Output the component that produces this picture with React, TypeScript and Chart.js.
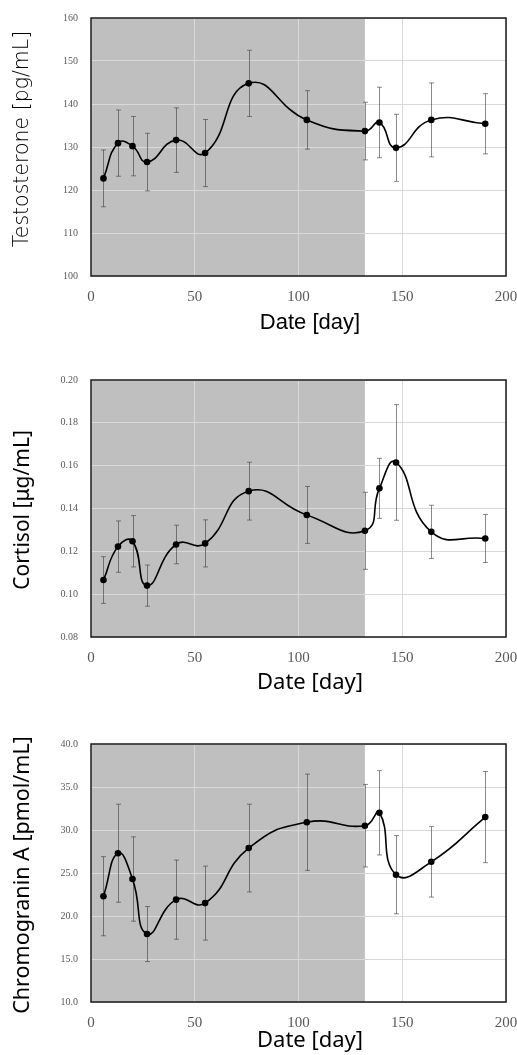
import React, { useEffect, useRef } from "react";
import { Chart, registerables } from "chart.js";
Chart.register(...registerables);

// ---------- data ----------
const days = [6, 13, 20, 27, 41, 55, 76, 104, 132, 139, 147, 164, 190];
const shadeEndDay = 132;
const xTicks = [0, 50, 100, 150, 200];

const testosterone = [122.7, 130.9, 130.2, 126.5, 131.6, 128.6, 144.8, 136.3, 133.7, 135.7, 129.8, 136.3, 135.4];
const testosteroneErr = [6.6, 7.7, 6.9, 6.7, 7.5, 7.8, 7.7, 6.8, 6.7, 8.2, 7.8, 8.6, 7.0];
const testosteroneTicks = [100, 110, 120, 130, 140, 150, 160];

const cortisol = [0.1066, 0.1222, 0.1247, 0.104, 0.1232, 0.1237, 0.1481, 0.137, 0.1296, 0.1494, 0.1615, 0.1291, 0.126];
const cortisolErr = [0.0109, 0.012, 0.012, 0.0096, 0.009, 0.011, 0.0135, 0.0133, 0.018, 0.014, 0.027, 0.0124, 0.0112];
const cortisolTicks = [0.08, 0.1, 0.12, 0.14, 0.16, 0.18, 0.2];

const chromograninA = [22.3, 27.3, 24.3, 17.9, 21.9, 21.5, 27.9, 30.9, 30.5, 32.0, 24.8, 26.3, 31.5];
const chromograninAErr = [4.6, 5.7, 4.9, 3.2, 4.6, 4.3, 5.1, 5.6, 4.8, 4.9, 4.55, 4.1, 5.3];
const chromograninATicks = [10, 15, 20, 25, 30, 35, 40];

const X_TITLE = "Date [day]";

type PanelProps = {
  top: number;
  height: number;
  plotTop: number; // relative to canvas
  plotBottom: number; // relative to canvas
  values: number[];
  errors: number[];
  yTicks: number[];
  decimals: number;
  yTitle: string;
  yTitleFont: string;
  xTitleFont: string;
  xTitleY: number; // relative to canvas
  yTitleCenterY: number; // relative to canvas
};

function Panel(p: PanelProps) {
  const ref = useRef<HTMLCanvasElement>(null);
  useEffect(() => {
    const canvas = ref.current!;
    const shadePlugin = {
      id: "shade",
      beforeDraw(chart: any) {
        const { ctx, chartArea, scales } = chart;
        const xEnd = scales.x.getPixelForValue(shadeEndDay);
        ctx.save();
        ctx.fillStyle = "#bfbfbf";
        ctx.fillRect(chartArea.left, chartArea.top, xEnd - chartArea.left, chartArea.bottom - chartArea.top);
        ctx.restore();
      },
    };
    const errPlugin = {
      id: "errbars",
      beforeDatasetsDraw(chart: any) {
        const { ctx, chartArea, scales } = chart;
        ctx.save();
        // frame
        ctx.strokeStyle = "#1a1a1a";
        ctx.lineWidth = 1.5;
        ctx.strokeRect(chartArea.left, chartArea.top, chartArea.right - chartArea.left, chartArea.bottom - chartArea.top);
        ctx.strokeStyle = "rgba(60,60,60,0.6)";
        ctx.lineWidth = 1;
        days.forEach((d, i) => {
          const x = Math.round(scales.x.getPixelForValue(d)) + 0.5;
          const y1 = scales.y.getPixelForValue(p.values[i] + p.errors[i]);
          const y2 = scales.y.getPixelForValue(p.values[i] - p.errors[i]);
          ctx.beginPath();
          ctx.moveTo(x, y1);
          ctx.lineTo(x, y2);
          ctx.moveTo(x - 2.5, y1);
          ctx.lineTo(x + 2.5, y1);
          ctx.moveTo(x - 2.5, y2);
          ctx.lineTo(x + 2.5, y2);
          ctx.stroke();
        });
        ctx.restore();
      },
    };
    const titlePlugin = {
      id: "titles",
      afterDraw(chart: any) {
        const { ctx } = chart;
        ctx.save();
        ctx.fillStyle = "#000";
        ctx.textAlign = "center";
        ctx.textBaseline = "middle";
        ctx.font = p.xTitleFont;
        ctx.fillText(X_TITLE, 310, p.xTitleY);
        ctx.translate(23, p.yTitleCenterY);
        ctx.rotate(-Math.PI / 2);
        ctx.font = p.yTitleFont;
        ctx.fillText(p.yTitle, 0, 0);
        ctx.restore();
      },
    };
    const chart = new Chart(canvas, {
      type: "line",
      data: {
        datasets: [
          {
            data: days.map((d, i) => ({ x: d, y: p.values[i] })),
            borderColor: "#000",
            borderWidth: 1.6,
            tension: 0.5,
            pointRadius: 3.3,
            pointBackgroundColor: "#000",
            pointBorderWidth: 0,
            fill: false,
          },
        ],
      },
      options: {
        animation: false,
        responsive: false,
        devicePixelRatio: 1,
        layout: { padding: { top: p.plotTop, right: 11, left: 0, bottom: 0 } },
        plugins: { legend: { display: false }, tooltip: { enabled: false } },
        scales: {
          x: {
            type: "linear",
            min: xTicks[0],
            max: xTicks[xTicks.length - 1],
            afterBuildTicks: (s: any) => {
              s.ticks = xTicks.map((v) => ({ value: v }));
            },
            afterFit: (s: any) => {
              s.height = p.height - p.plotBottom;
              s.paddingLeft = 0;
              s.paddingRight = 0;
            },
            grid: { color: "#d9d9d9", drawTicks: false, lineWidth: 1 },
            border: { display: false },
            ticks: {
              padding: 12,
              color: "#595959",
              maxRotation: 0,
              autoSkip: false,
              font: { family: "'Liberation Serif', serif", size: 15 },
            },
          },
          y: {
            type: "linear",
            min: p.yTicks[0],
            max: p.yTicks[p.yTicks.length - 1],
            afterBuildTicks: (s: any) => {
              s.ticks = p.yTicks.map((v) => ({ value: v }));
            },
            afterFit: (s: any) => {
              s.width = 91;
              s.paddingTop = 0;
              s.paddingBottom = 0;
            },
            grid: { color: "#d9d9d9", drawTicks: false, lineWidth: 1 },
            border: { display: false },
            ticks: {
              padding: 13,
              color: "#595959",
              autoSkip: false,
              font: { family: "'Liberation Serif', serif", size: 10 },
              callback: (v: any) => Number(v).toFixed(p.decimals),
            },
          },
        },
      },
      plugins: [shadePlugin, errPlugin, titlePlugin],
    } as any);
    return () => chart.destroy();
  }, []);
  return (
    <canvas
      ref={ref}
      width={517}
      height={p.height}
      style={{ position: "absolute", left: 0, top: p.top, width: 517, height: p.height }}
    />
  );
}

export default function App() {
  return (
    <div style={{ position: "absolute", left: 0, top: 0, width: 517, height: 1055, background: "#fff" }}>
      <Panel
        top={0}
        height={345}
        plotTop={18}
        plotBottom={276}
        values={testosterone}
        errors={testosteroneErr}
        yTicks={testosteroneTicks}
        decimals={0}
        yTitle="Testosterone [pg/mL]"
        yTitleFont="200 20.5px 'DejaVu Sans'"
        xTitleFont="22px 'Liberation Sans'"
        xTitleY={323}
        yTitleCenterY={139}
      />
      <Panel
        top={345}
        height={360}
        plotTop={35}
        plotBottom={292}
        values={cortisol}
        errors={cortisolErr}
        yTicks={cortisolTicks}
        decimals={2}
        yTitle="Cortisol [μg/mL]"
        yTitleFont="21px 'Noto Sans'"
        xTitleFont="22px 'Noto Sans'"
        xTitleY={338}
        yTitleCenterY={165}
      />
      <Panel
        top={690}
        height={365}
        plotTop={54}
        plotBottom={312}
        values={chromograninA}
        errors={chromograninAErr}
        yTicks={chromograninATicks}
        decimals={1}
        yTitle="Chromogranin A [pmol/mL]"
        yTitleFont="21.5px 'Noto Sans'"
        xTitleFont="22px 'Noto Sans'"
        xTitleY={351}
        yTitleCenterY={185}
      />
    </div>
  );
}
